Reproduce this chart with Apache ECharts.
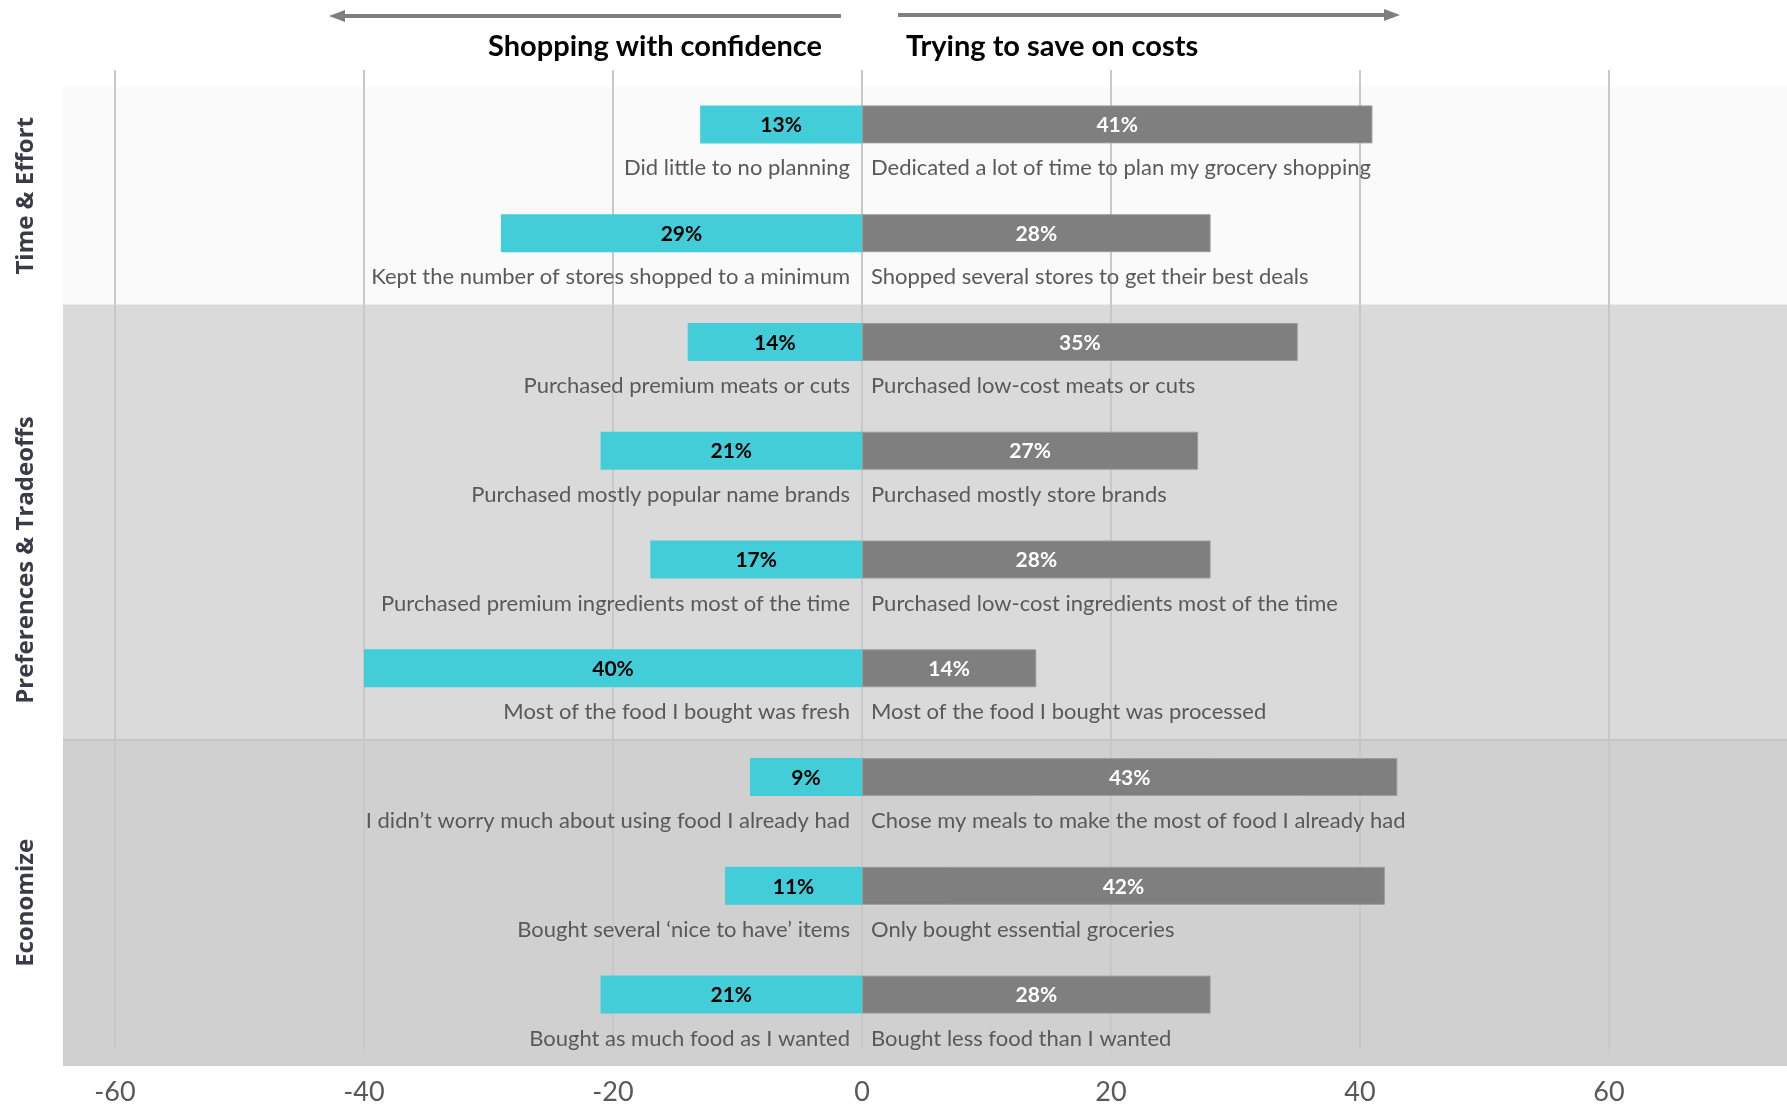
<!DOCTYPE html>
<html>
<head>
<meta charset="utf-8">
<script src="https://cdn.jsdelivr.net/npm/echarts@6/dist/echarts.min.js"></script>
<style>
html, body { margin: 0; padding: 0; background: #fff; }
#chart { width: 1787px; height: 1106px; }
</style>
</head>
<body>
<div id="chart"></div>
<script>
// left side: shopping with confidence, right side: trying to save on costs
var confidentLabels = [
  'Did little to no planning',
  'Kept the number of stores shopped to a minimum',
  'Purchased premium meats or cuts',
  'Purchased mostly popular name brands',
  'Purchased premium ingredients most of the time',
  'Most of the food I bought was fresh',
  'I didn\u2019t worry much about using food I already had',
  'Bought several \u2018nice to have\u2019 items',
  'Bought as much food as I wanted'
];
var savingLabels = [
  'Dedicated a lot of time to plan my grocery shopping',
  'Shopped several stores to get their best deals',
  'Purchased low-cost meats or cuts',
  'Purchased mostly store brands',
  'Purchased low-cost ingredients most of the time',
  'Most of the food I bought was processed',
  'Chose my meals to make the most of food I already had',
  'Only bought essential groceries',
  'Bought less food than I wanted'
];
var confidentPct = [13, 29, 14, 21, 17, 40, 9, 11, 21];
var savingPct = [41, 28, 35, 27, 28, 14, 43, 42, 28];

var groupNames = ['Time & Effort', 'Preferences & Tradeoffs', 'Economize'];
var groupRows = [2, 4, 3];
var groupColors = ['#fafafa', '#dadada', '#d0d0d0'];

var xMin = -60, xMax = 60, xStep = 20;

var FONT = 'Lato';
var rows = confidentLabels.map(function (d, i) { return 'r' + i; });
var leftVals = confidentPct.map(function (v) { return -v; });

// background bands
var bands = [];
var start = 0;
groupNames.forEach(function (name, i) {
  bands.push([
    {
      yAxis: start,
      name: name,
      itemStyle: { color: groupColors[i] },
      // offset is in the rotated frame: negative x moves the text down
      label: { offset: i === 1 ? [-38, 0] : [0, 0] }
    },
    { yAxis: start + groupRows[i] }
  ]);
  start += groupRows[i];
});

var chart = echarts.init(document.getElementById('chart'));
chart.setOption({
  animation: false,
  grid: [
    { left: 63, right: 0, top: 87, bottom: 40 },
    { left: 115, right: 178, top: 70, bottom: 55 }
  ],
  xAxis: [
    { gridIndex: 0, type: 'value', min: -64.2, max: 74.3, show: false },
    {
      gridIndex: 1, type: 'value', min: xMin, max: xMax, interval: xStep,
      axisLine: { show: false },
      axisTick: { show: false },
      splitLine: { show: true, lineStyle: { color: '#c8c8c8', width: 2 } },
      axisLabel: { fontFamily: FONT, fontSize: 27, color: '#595959', margin: 30 }
    }
  ],
  yAxis: [
    { gridIndex: 0, type: 'value', min: 0, max: 9, inverse: true, show: false },
    { gridIndex: 1, type: 'category', data: rows, inverse: true, show: false }
  ],
  series: [
    {
      type: 'line', xAxisIndex: 0, yAxisIndex: 0, data: [], z: -1,
      markArea: {
        silent: true, z: -1,
        label: {
          show: true, position: 'left', distance: 37, rotate: 90,
          align: 'center', verticalAlign: 'middle',
          fontFamily: 'Open Sans', fontWeight: 'bold', fontSize: 24, color: '#3b3b48'
        },
        data: bands
      },
      markLine: {
        silent: true, z: -1, symbol: 'none',
        label: { show: false },
        lineStyle: { color: '#c6c6c6', width: 2, type: 'solid' },
        data: [{ yAxis: groupRows[0] + groupRows[1] }]
      }
    },
    {
      name: 'Shopping with confidence', type: 'bar', xAxisIndex: 1, yAxisIndex: 1,
      data: leftVals, barWidth: 38, barGap: '-100%',
      itemStyle: { color: '#43cdd8' },
      label: {
        show: true, position: 'inside', fontFamily: FONT, fontWeight: 'bold',
        fontSize: 21, color: '#000', offset: [0, 1],
        formatter: function (p) { return Math.abs(p.value) + '%'; }
      }
    },
    {
      name: 'Trying to save on costs', type: 'bar', xAxisIndex: 1, yAxisIndex: 1,
      data: savingPct, barWidth: 38, barGap: '-100%',
      itemStyle: { color: '#7f7f7f', borderColor: '#9c9c9c', borderWidth: 1 },
      label: {
        show: true, position: 'inside', fontFamily: FONT, fontWeight: 'bold',
        fontSize: 21, color: '#fff', offset: [0, 1],
        formatter: function (p) { return p.value + '%'; }
      }
    },
    {
      type: 'bar', xAxisIndex: 1, yAxisIndex: 1, silent: true,
      data: leftVals, barWidth: 38, barGap: '-100%',
      itemStyle: { color: 'transparent' },
      label: {
        show: true, position: ['100%', '100%'], align: 'right', verticalAlign: 'middle',
        offset: [-12, 25], fontFamily: FONT, fontSize: 22, color: '#595959',
        formatter: function (p) { return confidentLabels[p.dataIndex]; }
      }
    },
    {
      type: 'bar', xAxisIndex: 1, yAxisIndex: 1, silent: true,
      data: savingPct, barWidth: 38, barGap: '-100%',
      itemStyle: { color: 'transparent' },
      label: {
        show: true, position: [0, '100%'], align: 'left', verticalAlign: 'middle',
        offset: [9, 25], fontFamily: FONT, fontSize: 22, color: '#595959',
        formatter: function (p) { return savingLabels[p.dataIndex]; }
      }
    }
  ],
  graphic: [
    { type: 'line', shape: { x1: 343, y1: 16, x2: 841, y2: 16 }, style: { stroke: '#7f7f7f', lineWidth: 4 } },
    { type: 'polygon', shape: { points: [[329, 16], [345, 10], [345, 22]] }, style: { fill: '#7f7f7f' } },
    { type: 'line', shape: { x1: 898, y1: 15, x2: 1386, y2: 15 }, style: { stroke: '#7f7f7f', lineWidth: 4 } },
    { type: 'polygon', shape: { points: [[1400, 15], [1384, 9], [1384, 21]] }, style: { fill: '#7f7f7f' } },
    {
      type: 'text', x: 822, y: 47,
      style: { text: 'Shopping with confidence', align: 'right', verticalAlign: 'middle',
        font: 'bold 29px ' + FONT, fill: '#000' }
    },
    {
      type: 'text', x: 906, y: 47,
      style: { text: 'Trying to save on costs', align: 'left', verticalAlign: 'middle',
        font: 'bold 29px ' + FONT, fill: '#000' }
    }
  ]
});
</script>
</body>
</html>
